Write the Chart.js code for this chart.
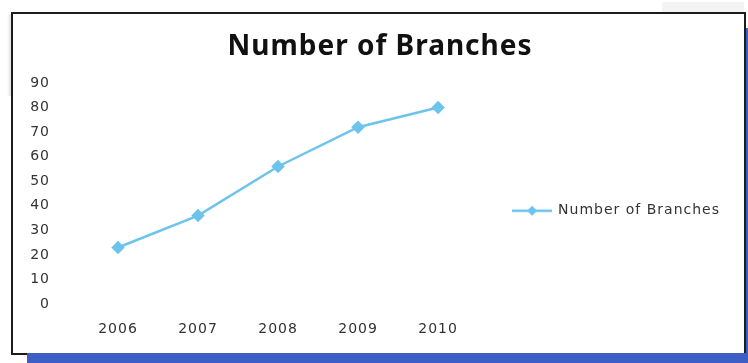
<!DOCTYPE html>
<html>
<head>
<meta charset="utf-8">
<title>Number of Branches</title>
<script src="https://cdn.jsdelivr.net/npm/chart.js@4.4.1/dist/chart.umd.min.js"></script>
<style>
  html, body { margin: 0; padding: 0; background: #fff; }
  #page { position: relative; width: 748px; height: 363px; overflow: hidden; background: #fff; }
  .frame { position: absolute; left: 11px; top: 12px; width: 731px; height: 339px; border: 2px solid #1c1c1c; }
  .shade-left { position: absolute; left: 7px; top: 14px; width: 4px; height: 82px; background: linear-gradient(to right, #fff, #e2e2e2); }
  .shade-top { position: absolute; left: 662px; top: 2px; width: 82px; height: 10px; background: #f4f4f4; }
  .band-bottom { position: absolute; left: 27px; top: 353px; width: 721px; height: 10px; background: #3d5ec4; }
  .band-right { position: absolute; left: 746px; top: 28px; width: 2px; height: 335px; background: #3d5ec4; }
  #chart { position: absolute; left: 0; top: 0; }
</style>
</head>
<body>
<div id="page">
  <div class="shade-left"></div>
  <div class="shade-top"></div>
  <div class="frame"></div>
  <div class="band-bottom"></div>
  <div class="band-right"></div>
  <canvas id="chart" width="748" height="363"></canvas>
</div>
<script>
const years = ['2006', '2007', '2008', '2009', '2010'];
const branches = [23, 36, 56, 72, 80];
const yMin = 0;
const yMax = 90;
const yStep = 10;

const lineColor = '#6cc4ec';
const textColor = '#333';
const tickFont = { family: 'DejaVu Sans', size: 14 };

// line-with-diamond sample used as the legend marker
function legendIcon() {
    const c = document.createElement('canvas');
    c.width = 40;
    c.height = 12;
    const g = c.getContext('2d');
    g.strokeStyle = lineColor;
    g.lineWidth = 2.5;
    g.beginPath();
    g.moveTo(0, 6);
    g.lineTo(40, 6);
    g.stroke();
    g.fillStyle = lineColor;
    g.beginPath();
    g.moveTo(20, 1);
    g.lineTo(25, 6);
    g.lineTo(20, 11);
    g.lineTo(15, 6);
    g.closePath();
    g.fill();
    return c;
}

// the text in this chart is slightly spaced out
const spacing = {
    id: 'spacing',
    afterInit(chart) { chart.ctx.letterSpacing = '1px'; },
    beforeUpdate(chart) { chart.ctx.letterSpacing = '1px'; },
    beforeDraw(chart) { chart.ctx.letterSpacing = '1px'; }
};

const ctx = document.getElementById('chart').getContext('2d');
new Chart(ctx, {
    type: 'line',
    data: {
        labels: years,
        datasets: [{
            label: 'Number of Branches',
            data: branches,
            borderColor: lineColor,
            backgroundColor: lineColor,
            borderWidth: 2.5,
            pointStyle: 'rectRot',
            pointRadius: 5,
            pointHoverRadius: 5,
            tension: 0
        }]
    },
    options: {
        responsive: false,
        animation: false,
        layout: { padding: { left: 30, right: 18, top: 0, bottom: 10 } },
        plugins: {
            title: {
                display: true,
                text: 'Number of Branches',
                color: '#111',
                font: { family: 'Noto Sans', size: 28, weight: 'bold' },
                padding: { top: 30.2, bottom: 19.2 }
            },
            legend: {
                position: 'right',
                maxWidth: 300,
                title: { display: true, text: ' ', font: { size: 12 }, padding: { top: 27, bottom: 27 } },
                labels: {
                    usePointStyle: true,
                    pointStyle: legendIcon(),
                    pointStyleWidth: 38,
                    color: textColor,
                    font: { family: 'DejaVu Sans', size: 14 },
                    padding: 35
                }
            },
            tooltip: { enabled: false }
        },
        scales: {
            x: {
                offset: true,
                grid: { display: false },
                border: { display: false },
                ticks: { color: textColor, font: tickFont, padding: 8.6, maxRotation: 0 },
                afterFit(scale) { scale.height = 49; }
            },
            y: {
                min: yMin,
                max: yMax,
                grid: { display: false },
                border: { display: false },
                ticks: { stepSize: yStep, color: textColor, font: tickFont, padding: 20 },
                afterFit(scale) { scale.width = 48; }
            }
        }
    },
    plugins: [spacing]
});
</script>
</body>
</html>
